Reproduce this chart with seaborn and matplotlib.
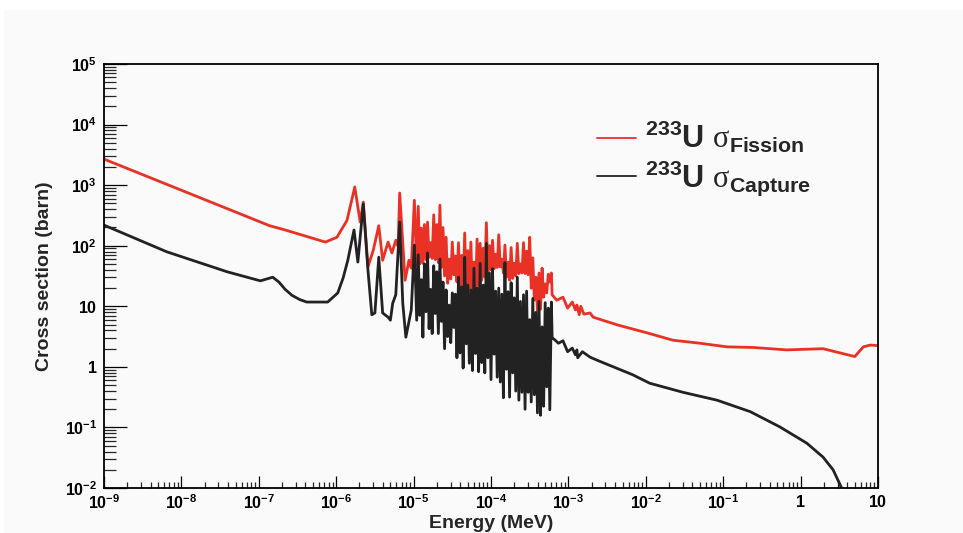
import numpy as np
import pandas as pd
import matplotlib
matplotlib.use("Agg")
import matplotlib.pyplot as plt
import seaborn as sns
from matplotlib.patches import Rectangle
from matplotlib.ticker import LogLocator, FixedLocator, FixedFormatter, NullFormatter

# values: log10(energy / MeV) and log10(cross section / barn)

# fission, thermal + first resolved resonances
fis_low_e = [-9.00, -6.86, -6.66, -6.14, -5.99, -5.86, -5.82, -5.76, -5.69, -5.65,
             -5.59, -5.52, -5.45, -5.40, -5.33, -5.28, -5.23, -5.20, -5.18, -5.11,
             -5.06, -5.03, -4.99, -4.96]
fis_low_s = [3.43, 2.33, 2.26, 2.06, 2.14, 2.42, 2.64, 2.97, 2.39, 2.72,
             1.65, 1.93, 2.33, 1.76, 2.06, 1.88, 2.09, 1.99, 2.87, 1.43,
             1.76, 1.63, 2.75, 1.68]

# capture, thermal + first resolved resonances
cap_low_e = [-9.00, -8.19, -7.41, -6.98, -6.82, -6.74, -6.66, -6.57, -6.47, -6.38,
             -6.11, -5.98, -5.91, -5.85, -5.77, -5.72, -5.65, -5.59, -5.54, -5.50,
             -5.45, -5.40, -5.33, -5.30, -5.27, -5.23, -5.18, -5.14, -5.10, -5.03,
             -4.99, -4.96]
cap_low_s = [2.34, 1.90, 1.57, 1.42, 1.48, 1.40, 1.28, 1.18, 1.11, 1.07,
             1.07, 1.22, 1.47, 1.76, 2.26, 1.73, 2.69, 1.60, 0.86, 0.89,
             1.81, 0.89, 0.82, 0.77, 1.05, 1.19, 2.39, 1.05, 0.49, 0.94,
             2.01, 0.77]

# dense resonance region (shared energy grid)
res_log_e = [-4.94, -4.92, -4.90, -4.88, -4.86, -4.84, -4.82, -4.80, -4.78, -4.76,
             -4.74, -4.72, -4.70, -4.68, -4.66, -4.64, -4.62, -4.60, -4.58, -4.56,
             -4.54, -4.52, -4.50, -4.48, -4.46, -4.44, -4.42, -4.40, -4.38, -4.36,
             -4.34, -4.32, -4.30, -4.28, -4.26, -4.24, -4.22, -4.20, -4.18, -4.16,
             -4.14, -4.12, -4.10, -4.08, -4.06, -4.04, -4.02, -4.00, -3.98, -3.96,
             -3.94, -3.92, -3.90, -3.88, -3.86, -3.84, -3.82, -3.80, -3.78, -3.76,
             -3.74, -3.72, -3.70, -3.68, -3.66, -3.64, -3.62, -3.60, -3.58, -3.56,
             -3.54, -3.52, -3.50, -3.48, -3.46, -3.44, -3.42, -3.40, -3.38, -3.36,
             -3.34, -3.32, -3.30, -3.28, -3.26, -3.24]
fis_res_s = [2.65, 1.70, 2.29, 1.71, 2.35, 1.77, 2.39, 1.81, 2.05, 1.79,
             2.51, 1.77, 2.35, 1.72, 2.67, 1.64, 2.30, 1.50, 2.14, 1.38,
             1.78, 1.45, 2.06, 1.52, 1.83, 1.40, 2.05, 1.27, 1.84, 1.30,
             2.21, 1.32, 1.92, 1.27, 2.06, 1.18, 1.73, 1.20, 2.11, 1.33,
             2.04, 1.43, 1.96, 1.48, 2.38, 1.57, 2.00, 1.60, 2.09, 1.62,
             1.86, 1.64, 2.18, 1.65, 1.78, 1.55, 2.01, 1.48, 1.73, 1.43,
             1.97, 1.46, 1.71, 1.50, 2.04, 1.54, 1.70, 1.55, 2.05, 1.54,
             1.91, 1.52, 2.14, 1.30, 1.80, 1.10, 1.48, 0.92, 1.55, 0.95,
             1.63, 1.15, 1.37, 1.22, 1.53, 1.40]
cap_res_s = [1.85, 0.85, 1.44, 0.49, 1.70, 0.91, 1.88, 0.63, 1.28, 0.55,
             1.67, 0.88, 1.57, 0.55, 1.78, 0.75, 1.40, 0.30, 1.27, 0.50,
             1.02, 0.40, 1.22, 0.65, 1.20, 0.15, 1.48, 0.23, 1.32, -0.02,
             1.81, 0.38, 1.35, 0.06, 1.27, -0.06, 1.63, 0.22, 1.30, -0.08,
             1.71, 0.07, 1.35, -0.10, 2.04, 0.15, 1.55, -0.21, 1.62, 0.21,
             1.25, -0.17, 1.30, -0.25, 1.20, -0.51, 1.72, -0.04, 1.24, -0.50,
             1.39, -0.10, 1.14, -0.40, 1.48, -0.55, 1.08, -0.42, 1.19, -0.70,
             1.25, -0.42, 0.78, -0.58, 1.13, -0.46, 0.90, -0.76, 1.08, -0.80,
             0.66, -0.65, 1.06, -0.33, 0.97, -0.71]

# unresolved / fast region
fis_high_e = [-3.22, -3.21, -3.15, -3.07, -3.01, -2.95, -2.91, -2.89, -2.86, -2.84,
              -2.80, -2.72, -2.68, -2.36, -1.98, -1.65, -1.30, -0.95, -0.61, -0.18,
              0.29, 0.70, 0.81, 0.90, 1.00]
fis_high_s = [1.55, 1.19, 1.10, 1.15, 0.97, 1.07, 0.94, 1.02, 0.86, 1.00,
              0.87, 0.89, 0.82, 0.69, 0.56, 0.44, 0.39, 0.33, 0.32, 0.28,
              0.30, 0.17, 0.33, 0.36, 0.35]
cap_high_e = [-3.22, -3.21, -3.17, -3.13, -3.07, -3.01, -2.95, -2.91, -2.89, -2.88,
              -2.82, -2.72, -2.63, -2.17, -1.95, -1.52, -1.08, -0.65, -0.27, 0.08,
              0.29, 0.42, 0.53, 0.64]
cap_high_s = [1.07, 0.48, 0.44, 0.39, 0.43, 0.25, 0.31, 0.20, 0.28, 0.15,
              0.25, 0.16, 0.11, -0.13, -0.27, -0.42, -0.55, -0.74, -0.99, -1.26,
              -1.49, -1.70, -2.00, -2.36]

y_ticks = [1e-2, 1e-1, 1, 10, 1e2, 1e3, 1e4, 1e5]
y_labels = ["10^{-2}", "10^{-1}", "1", "10", "10^{2}", "10^{3}", "10^{4}", "10^{5}"]
x_ticks = [1e-9, 1e-8, 1e-7, 1e-6, 1e-5, 1e-4, 1e-3, 1e-2, 1e-1, 1, 10]
x_labels = ["10^{-9}", "10^{-8}", "10^{-7}", "10^{-6}", "10^{-5}", "10^{-4}",
            "10^{-3}", "10^{-2}", "10^{-1}", "1", "10"]

fission = pd.DataFrame({
    "E": 10 ** np.array(fis_low_e + res_log_e + fis_high_e),
    "xs": 10 ** np.array(fis_low_s + fis_res_s + fis_high_s),
})
capture = pd.DataFrame({
    "E": 10 ** np.array(cap_low_e + res_log_e + cap_high_e),
    "xs": 10 ** np.array(cap_low_s + cap_res_s + cap_high_s),
})

sns.set_theme(style="ticks")
plt.rcParams["font.family"] = ["Liberation Sans", "DejaVu Sans"]
plt.rcParams["mathtext.fontset"] = "custom"
plt.rcParams["mathtext.rm"] = "Liberation Serif"
plt.rcParams["mathtext.bf"] = "Liberation Sans:bold"
plt.rcParams["mathtext.it"] = "Liberation Sans:italic"
plt.rcParams["mathtext.sf"] = "Liberation Sans"

bg = "#fafafa"
fig = plt.figure(figsize=(9.63, 5.33), dpi=100, facecolor="white")
fig.patches.append(Rectangle((4 / 963, 0), 1, 1 - 10 / 533, transform=fig.transFigure,
                             facecolor=bg, edgecolor="none", zorder=-5))
ax = fig.add_axes([104 / 963, 1 - 488 / 533, 774 / 963, 424 / 533])
ax.set_facecolor(bg)

red = "#ea3126"
blk = "#222222"
sns.lineplot(data=fission, x="E", y="xs", color=red, linewidth=2.0, estimator=None,
             sort=False, ax=ax, label=r"$^{\mathbf{233}}\mathbf{U}\ \mathrm{\sigma}_{\mathbf{Fission}}$")
sns.lineplot(data=capture, x="E", y="xs", color=blk, linewidth=2.0, estimator=None,
             sort=False, ax=ax, label=r"$^{\mathbf{233}}\mathbf{U}\ \mathrm{\sigma}_{\mathbf{Capture}}$")

ax.set_xscale("log")
ax.set_yscale("log")
ax.set_xlim(1e-9, 10)
ax.set_ylim(1e-2, 1e5)

ax.xaxis.set_major_locator(FixedLocator(x_ticks))
ax.xaxis.set_major_formatter(FixedFormatter([r"$\mathbf{%s}$" % s for s in x_labels]))
ax.yaxis.set_major_locator(FixedLocator(y_ticks))
ax.yaxis.set_major_formatter(FixedFormatter([r"$\mathbf{%s}$" % s for s in y_labels]))
ax.xaxis.set_minor_locator(LogLocator(base=10, subs=np.arange(2, 10), numticks=30))
ax.yaxis.set_minor_locator(LogLocator(base=10, subs=np.arange(2, 10), numticks=30))
ax.xaxis.set_minor_formatter(NullFormatter())
ax.yaxis.set_minor_formatter(NullFormatter())

ax.tick_params(axis="x", which="major", direction="in", length=8.6, width=0.9, pad=4,
               labelsize=11.5, colors="black")
ax.tick_params(axis="x", which="minor", direction="in", length=4.3, width=0.9)
ax.tick_params(axis="y", which="major", direction="in", length=16.5, width=0.9, pad=5,
               labelsize=11.5, colors="black")
ax.tick_params(axis="y", which="minor", direction="in", length=8.6, width=0.9)
ax.tick_params(top=False, right=False, which="both")
for sp in ax.spines.values():
    sp.set_color("black")
    sp.set_linewidth(1.3)
    sp.set_visible(True)

ax.set_xlabel("Energy (MeV)", fontsize=14, fontweight="bold")
ax.set_ylabel("Cross section (barn)", fontsize=14, fontweight="bold")
ax.xaxis.set_label_coords(0.5, -0.063)
ax.yaxis.set_label_coords(-0.066, 0.5)

leg = ax.legend(loc="upper left", bbox_to_anchor=(0.602, 0.935), frameon=False,
                fontsize=22, handlelength=1.25, handletextpad=0.3, labelspacing=0.1)
for ln in leg.get_lines():
    ln.set_linewidth(1.3)

fig.savefig("out.png", dpi=100, facecolor="white")
